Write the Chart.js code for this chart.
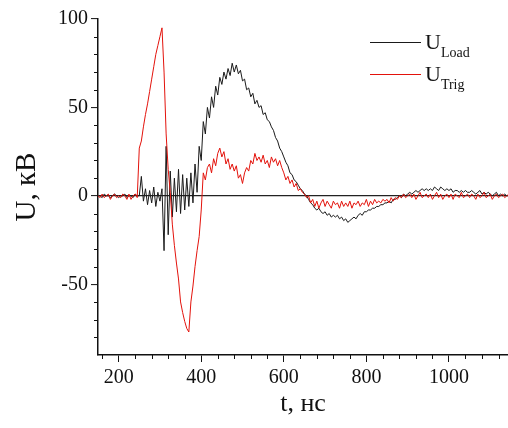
<!DOCTYPE html>
<html>
<head>
<meta charset="utf-8">
<script src="https://cdn.jsdelivr.net/npm/chart.js@4.4.1/dist/chart.umd.min.js"></script>
<style>
  body { margin: 0; background: #fff; }
  #wrap { width: 508px; height: 428px; }
</style>
</head>
<body>
<div id="wrap"><canvas id="chart-1" width="508" height="428"></canvas></div>
<script>
// time, ns (one row = 100 ns)
const times = [
  150, 155, 160, 165, 170, 175, 180, 185, 190, 195, 200, 205, 210, 215, 220, 225, 230, 235, 240, 245,
  250, 255, 260, 265, 270, 275, 280, 285, 290, 295, 300, 305, 310, 315, 320, 325, 330, 335, 340, 345,
  350, 355, 360, 365, 370, 375, 380, 385, 390, 395, 400, 405, 410, 415, 420, 425, 430, 435, 440, 445,
  450, 455, 460, 465, 470, 475, 480, 485, 490, 495, 500, 505, 510, 515, 520, 525, 530, 535, 540, 545,
  550, 555, 560, 565, 570, 575, 580, 585, 590, 595, 600, 605, 610, 615, 620, 625, 630, 635, 640, 645,
  650, 655, 660, 665, 670, 675, 680, 685, 690, 695, 700, 705, 710, 715, 720, 725, 730, 735, 740, 745,
  750, 755, 760, 765, 770, 775, 780, 785, 790, 795, 800, 805, 810, 815, 820, 825, 830, 835, 840, 845,
  850, 855, 860, 865, 870, 875, 880, 885, 890, 895, 900, 905, 910, 915, 920, 925, 930, 935, 940, 945,
  950, 955, 960, 965, 970, 975, 980, 985, 990, 995, 1000, 1005, 1010, 1015, 1020, 1025, 1030, 1035, 1040, 1045,
  1050, 1055, 1060, 1065, 1070, 1075, 1080, 1085, 1090, 1095, 1100, 1105, 1110, 1115, 1120, 1125, 1130, 1135, 1140, 1145
];

// U load, kV
const uLoad = [
  0, 0, -1, 1, 0, 0, -1, 0, 1, 0, -1, 0, 0, 1, -1, 0, 0, -1, 1, 0,
  0, 11, -3, 4, -5, 3, -4, 5, -6, 2, -3, 4, -31, 28, -22, 14, -12, 10, -9, 15,
  -10, 12, -8, 10, -6, 13, -4, 18, 2, 28, 20, 42, 35, 50, 44, 56, 50, 62, 57, 67,
  63, 70, 66, 72, 68, 75, 70, 74, 69, 71, 65, 66, 60, 61, 56, 58, 52, 54, 50, 51,
  46, 47, 43, 42, 39, 37, 33, 31, 27, 25, 22, 19, 17, 13, 12, 9, 8, 6, 4, 3,
  1, 0, -2, -4, -5, -7, -8, -7, -9, -10, -9, -11, -10, -12, -11, -12, -11, -13, -12, -14,
  -13, -15, -14, -13, -12, -13, -11, -10, -11, -9, -9, -8, -8, -7, -7, -6, -6, -5, -5, -4,
  -4, -3, -4, -2, -2, -1, 0, -1, 1, 0, 1, 2, 1, 2, 3, 2, 3, 4, 3, 4,
  3, 4, 3, 5, 4, 3, 5, 4, 3, 4, 3, 4, 2, 3, 3, 2, 3, 2, 3, 2,
  2, 3, 2, 1, 2, 3, 1, 2, 1, 2, 1, 0, 1, 2, 0, 1, 0, 1, 0, 0
];

// U trig, kV
const uTrig = [
  0, -1, 1, -1, 0, 1, -2, 0, 1, -1, 0, -1, 1, 0, -2, 1, -2, 0, 1, -1,
  27, 31, 39, 46, 52, 59, 66, 73, 80, 85, 90, 95, 70, 35, 15, 2, -16, -28, -38, -47,
  -60, -66, -71, -75, -77, -60, -51, -40, -31, -23, -8, 13, 9, 16, 18, 13, 21, 17, 24, 27,
  22, 25, 18, 21, 15, 18, 14, 17, 10, 12, 7, 13, 16, 14, 20, 18, 24, 20, 22, 19,
  23, 18, 20, 16, 22, 19, 21, 17, 20, 16, 13, 9, 11, 7, 9, 5, 7, 3, 4, 2,
  1, -1, 0, -4, -2, -6, -3, -7, -4, -2, -6, -3, -5, -7, -3, -5, -4, -7, -3, -6,
  -4, -6, -3, -7, -4, -5, -3, -6, -4, -5, -2, -6, -3, -5, -2, -4, -3, -4, -2, -3,
  -2, -4, -1, -3, -1, -2, 0, -1, 1, -1, 0, 1, -1, 1, -2, 0, 2, -1, 0, 1,
  -1, 1, -2, 0, 2, -1, 1, -2, 0, 1, -1, 1, -2, 1, 0, -1, 2, -1, 0, 1,
  -1, 1, 0, -2, 1, -1, 0, 2, -1, 0, 1, -2, 0, 1, -1, 0, 1, -1, 0, 1
];

const xMajor = [200, 400, 600, 800, 1000];
const yMajor = [-50, 0, 50, 100];
const seriesNames = ["Load", "Trig"];
const seriesColors = ["#1a1a1a", "#e3120b"];

const serif = "'Liberation Serif', 'DejaVu Serif', serif";

// chart.js has no minor ticks and no subscripts in the legend, so draw those here
const extras = {
  id: "extras",
  afterDraw(chart) {
    const c = chart.ctx;
    const xs = chart.scales.x;
    const ys = chart.scales.y;
    c.save();
    c.strokeStyle = "#111";
    c.lineWidth = 1;
    c.beginPath();
    xs.ticks.forEach((t) => {
      if (xMajor.includes(t.value)) return;
      const px = Math.round(xs.getPixelForValue(t.value)) + 0.5;
      c.moveTo(px, xs.top);
      c.lineTo(px, xs.top + 4);
    });
    ys.ticks.forEach((t) => {
      if (yMajor.includes(t.value) || t.value === ys.min) return;
      const py = Math.round(ys.getPixelForValue(t.value)) + 0.5;
      c.moveTo(ys.right, py);
      c.lineTo(ys.right - 4, py);
    });
    c.stroke();

    // legend
    seriesNames.forEach((name, i) => {
      const y = 42 + i * 32;
      c.strokeStyle = seriesColors[i];
      c.lineWidth = 1;
      c.beginPath();
      c.moveTo(370, y + 0.5);
      c.lineTo(421, y + 0.5);
      c.stroke();
      c.fillStyle = "#111";
      c.textBaseline = "alphabetic";
      c.font = "22px " + serif;
      c.fillText("U", 425, y + 7);
      const w = c.measureText("U").width;
      c.font = "14px " + serif;
      c.fillText(name, 425 + w, y + 15);
    });
    c.restore();
  }
};

const ctx = document.getElementById("chart-1").getContext("2d");
const myChart = new Chart(ctx, {
  type: "line",
  data: {
    datasets: [
      {
        label: "U Trig",
        data: times.map((t, i) => ({ x: t, y: uTrig[i] })),
        borderColor: seriesColors[1],
        borderWidth: 1,
        pointRadius: 0,
        tension: 0,
        order: 0
      },
      {
        label: "U Load",
        data: times.map((t, i) => ({ x: t, y: uLoad[i] })),
        borderColor: seriesColors[0],
        borderWidth: 1,
        pointRadius: 0,
        tension: 0,
        order: 1
      }
    ]
  },
  options: {
    responsive: false,
    animation: false,
    devicePixelRatio: 1,
    layout: { padding: { top: 19, right: 0, left: 0, bottom: 0 } },
    plugins: {
      legend: { display: false },
      tooltip: { enabled: false }
    },
    scales: {
      x: {
        type: "linear",
        min: 150,
        max: 1143,
        ticks: {
          stepSize: 40,
          includeBounds: false,
          autoSkip: false,
          maxRotation: 0,
          padding: 4,
          color: "#111",
          font: { family: serif, size: 20 },
          callback: (v) => (xMajor.includes(v) ? String(v) : "")
        },
        grid: {
          drawOnChartArea: false,
          tickLength: 7,
          tickWidth: 1,
          tickColor: (c) => (c.tick && xMajor.includes(c.tick.value) ? "#111" : "rgba(0,0,0,0)")
        },
        border: { display: true, color: "#111", width: 1.5 },
        title: {
          display: true,
          text: "t, нс",
          color: "#111",
          font: { family: serif, size: 26 },
          padding: { top: 0, bottom: 8 }
        },
        afterFit: (s) => { s.height = 73; }
      },
      y: {
        min: -90,
        max: 100,
        ticks: {
          stepSize: 10,
          autoSkip: false,
          padding: 3,
          color: "#111",
          font: { family: serif, size: 20 },
          callback: (v) => (yMajor.includes(v) ? String(v) : "")
        },
        grid: {
          drawOnChartArea: true,
          lineWidth: 1.2,
          color: (c) => (c.tick && c.tick.value === 0 ? "#222" : "rgba(0,0,0,0)"),
          tickLength: 7,
          tickWidth: 1,
          tickColor: (c) => (c.tick && yMajor.includes(c.tick.value) ? "#111" : "rgba(0,0,0,0)")
        },
        border: { display: true, color: "#111", width: 1.5 },
        title: {
          display: true,
          text: "U, кВ",
          color: "#111",
          font: { family: serif, size: 29 },
          padding: { top: 10, bottom: 0 }
        },
        afterFit: (s) => { s.width = 98; }
      }
    }
  },
  plugins: [extras]
});
</script>
</body>
</html>
